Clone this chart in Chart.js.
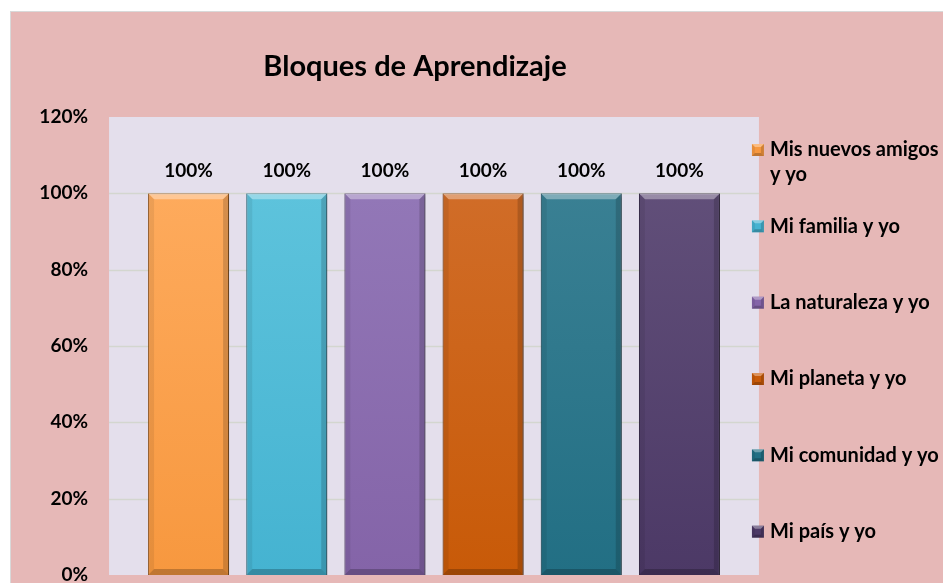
<!DOCTYPE html>
<html>
<head>
<meta charset="utf-8">
<script src="https://cdn.jsdelivr.net/npm/chart.js@4"></script>
<style>
  html, body { margin: 0; padding: 0; background: #ffffff; }
  #wrap { width: 943px; height: 583px; position: relative; }
  canvas { display: block; }
</style>
</head>
<body>
<div id="wrap"><canvas id="grafico" width="943" height="583"></canvas></div>
<script>
// datos
const categorias = ['Mis nuevos amigos y yo', 'Mi familia y yo', 'La naturaleza y yo', 'Mi planeta y yo', 'Mi comunidad y yo', 'Mi país y yo'];
const porcentajes = [100, 100, 100, 100, 100, 100];
const titulo = 'Bloques de Aprendizaje';
const yMin = 0, yMax = 120, yPaso = 20;

// colores (claro arriba, base abajo)
const coloresClaros = ['#FFAE62', '#62C6DE', '#957BBA', '#D2702E', '#3E8396', '#65537D'];
const coloresBase = ['#F7983F', '#45B3D1', '#8464A8', '#C85A08', '#226F84', '#4C3966'];
const bordes = ['#9C5A1C', '#2A7186', '#56416F', '#7E3804', '#16495A', '#2E2240'];

const FONT = 'Lato, "DejaVu Sans", sans-serif';

function gradiente(ctx, area, i) {
    let g = ctx.createLinearGradient(0, area.top, 0, area.bottom);
    g.addColorStop(0, coloresClaros[i]);
    g.addColorStop(1, coloresBase[i]);
    return g;
}

const fondoPlugin = {
    id: 'fondo',
    beforeDraw(chart) {
        const ctx = chart.ctx, a = chart.chartArea, ys = chart.scales.y;
        const ext = (a.right - a.left) / categorias.length * 0.31;
        ctx.save();
        ctx.fillStyle = '#ffffff';
        ctx.fillRect(0, 0, chart.width, chart.height);
        ctx.fillStyle = '#D9D9D9';
        ctx.fillRect(10, 11, chart.width - 10, chart.height - 11);
        ctx.fillStyle = '#E6B8B7';
        ctx.fillRect(11, 12, chart.width - 11, chart.height - 12);
        // area de trazado
        ctx.fillStyle = '#E4DFEC';
        ctx.fillRect(a.left - ext, a.top, a.right - a.left + 2 * ext, a.bottom - a.top);
        // lineas de cuadricula
        ctx.strokeStyle = '#D3D6CF';
        ctx.lineWidth = 1.5;
        ys.ticks.forEach(t => {
            let y = Math.round(ys.getPixelForValue(t.value)) + 0.5;
            if (t.value === yMin || t.value === yMax) return;
            ctx.beginPath();
            ctx.moveTo(a.left - ext, y);
            ctx.lineTo(a.right + ext, y);
            ctx.stroke();
        });
        // titulo
        ctx.fillStyle = '#000000';
        ctx.font = 'bold 29px ' + FONT;
        ctx.textAlign = 'center';
        ctx.textBaseline = 'alphabetic';
        ctx.fillText(titulo, (a.left + a.right) / 2 - 19, 76);
        ctx.restore();
    },
    beforeDatasetsDraw(chart) {
        const ctx = chart.ctx;
        ctx.save();
        ctx.shadowColor = 'rgba(0,0,0,0.35)';
        ctx.shadowBlur = 4;
        ctx.shadowOffsetX = 2;
        ctx.shadowOffsetY = 2;
    },
    afterDatasetsDraw(chart) {
        const ctx = chart.ctx;
        ctx.restore();
        const meta = chart.getDatasetMeta(0);
        ctx.save();
        meta.data.forEach((bar, i) => {
            const p = bar.getProps(['x', 'y', 'base', 'width'], true);
            const L = p.x - p.width / 2, R = p.x + p.width / 2, T = p.y, B = p.base, b = 6;
            biselar(ctx, L, R, T, B, b);
            // etiqueta de datos
            ctx.fillStyle = '#000000';
            ctx.font = 'bold 19px ' + FONT;
            ctx.textAlign = 'center';
            ctx.textBaseline = 'middle';
            ctx.fillText(porcentajes[i] + '%', p.x, T - 22);
        });
        ctx.restore();
        dibujarLeyenda(chart);
    }
};

function poly(ctx, pts, color) {
    ctx.beginPath();
    ctx.moveTo(pts[0][0], pts[0][1]);
    for (let k = 1; k < pts.length; k++) ctx.lineTo(pts[k][0], pts[k][1]);
    ctx.closePath();
    ctx.fillStyle = color;
    ctx.fill();
}

function biselar(ctx, L, R, T, B, b) {
    poly(ctx, [[L, T], [R, T], [R - b, T + b], [L + b, T + b]], 'rgba(255,255,255,0.35)');
    poly(ctx, [[L, T], [L + b, T + b], [L + b, B - b], [L, B]], 'rgba(0,0,0,0.07)');
    poly(ctx, [[R, T], [R - b, T + b], [R - b, B - b], [R, B]], 'rgba(0,0,0,0.16)');
    poly(ctx, [[L, B], [L + b, B - b], [R - b, B - b], [R, B]], 'rgba(0,0,0,0.22)');
}

function partirTexto(ctx, texto, ancho) {
    let palabras = texto.split(' '), lineas = [], actual = '';
    palabras.forEach(w => {
        let prueba = actual ? actual + ' ' + w : w;
        if (ctx.measureText(prueba).width > ancho && actual) {
            lineas.push(actual);
            actual = w;
        } else {
            actual = prueba;
        }
    });
    lineas.push(actual);
    return lineas;
}

function dibujarLeyenda(chart) {
    const ctx = chart.ctx, a = chart.chartArea;
    const paso = (a.bottom - a.top) / categorias.length;
    const ext = (a.right - a.left) / categorias.length * 0.31;
    const xm = a.right + ext - 7;
    const xt = xm + 18;
    ctx.save();
    ctx.font = 'bold 20px ' + FONT;
    ctx.textAlign = 'left';
    ctx.textBaseline = 'middle';
    categorias.forEach((c, i) => {
        const y = a.top + 33 + i * paso;
        ctx.fillStyle = coloresBase[i];
        ctx.fillRect(xm, y - 6, 12, 12);
        biselar(ctx, xm, xm + 12, y - 6, y + 6, 3);
        ctx.fillStyle = '#000000';
        const lineas = partirTexto(ctx, c, chart.width - xt - 1);
        lineas.forEach((l, k) => ctx.fillText(l, xt, y + k * 25));
    });
    ctx.restore();
}

new Chart(document.getElementById('grafico'), {
    type: 'bar',
    data: {
        labels: categorias,
        datasets: [{
            data: porcentajes,
            backgroundColor: c => gradiente(c.chart.ctx, c.chart.chartArea || {top: 0, bottom: 583}, c.dataIndex),
            borderColor: bordes,
            borderWidth: 1,
            barPercentage: 0.825,
            categoryPercentage: 1
        }]
    },
    options: {
        responsive: false,
        animation: false,
        layout: { padding: { top: 117, right: 214.5, bottom: 8, left: 0 } },
        plugins: { legend: { display: false }, tooltip: { enabled: false } },
        scales: {
            x: { display: false },
            y: {
                min: yMin,
                max: yMax,
                afterFit: s => {
                    s.width = 139.5;
                    s.paddingTop = 0;
                    s.paddingBottom = 0;
                },
                border: { display: false },
                grid: { display: false, drawTicks: false },
                ticks: {
                    stepSize: yPaso,
                    padding: 51.5,
                    color: '#000000',
                    font: { family: FONT, size: 19, weight: 'bold' },
                    callback: v => v + '%'
                }
            }
        }
    },
    plugins: [fondoPlugin]
});
</script>
</body>
</html>
